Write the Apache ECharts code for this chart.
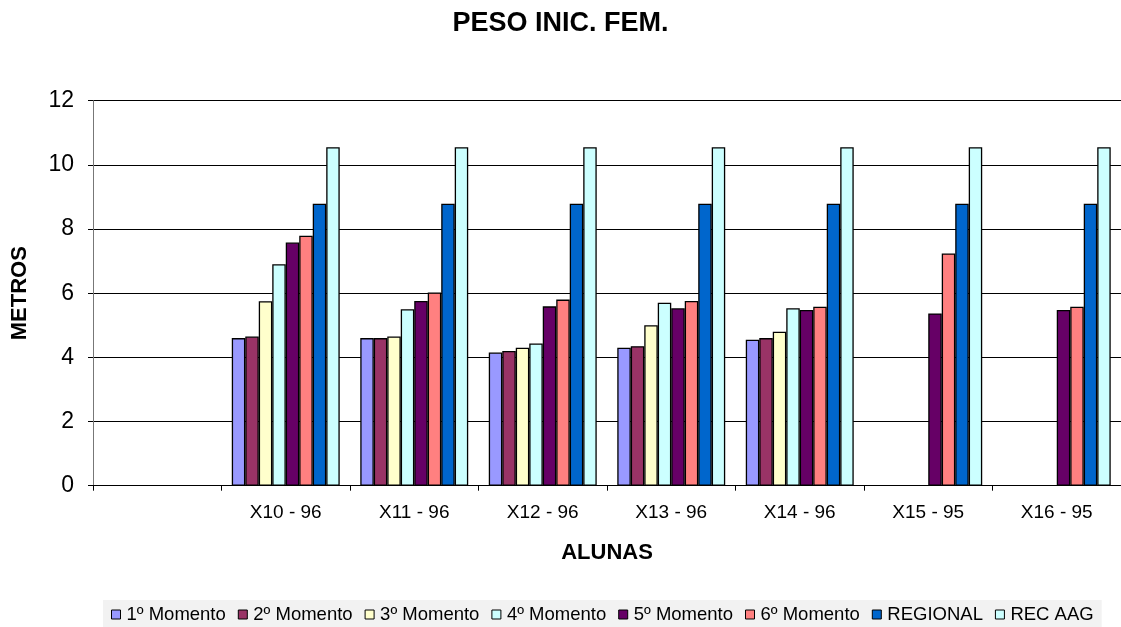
<!DOCTYPE html>
<html>
<head>
<meta charset="utf-8">
<script src="https://cdn.jsdelivr.net/npm/echarts@6/dist/echarts.min.js"></script>
<style>
  html, body { margin: 0; padding: 0; background: #fff; }
  #chart { width: 1121px; height: 627px; }
</style>
</head>
<body>
<div id="chart"></div>
<script>
const categories = ['', 'X10 - 96', 'X11 - 96', 'X12 - 96', 'X13 - 96', 'X14 - 96', 'X15 - 95', 'X16 - 95'];
const yTicks = [0, 2, 4, 6, 8, 10, 12];

const momento1 = [null, 4.6, 4.6, 4.15, 4.3, 4.55, null, null];
const momento2 = [null, 4.65, 4.6, 4.2, 4.35, 4.6, null, null];
const momento3 = [null, 5.75, 4.65, 4.3, 5.0, 4.8, null, null];
const momento4 = [null, 6.9, 5.5, 4.43, 5.7, 5.53, null, null];
const momento5 = [null, 7.58, 5.76, 5.59, 5.53, 5.48, 5.37, 5.48];
const momento6 = [null, 7.79, 6.02, 5.8, 5.76, 5.58, 7.24, 5.58];
const regional = [null, 8.79, 8.79, 8.79, 8.79, 8.79, 8.79, 8.79];
const recAag = [null, 10.55, 10.55, 10.55, 10.55, 10.55, 10.55, 10.55];

const seriesDefs = [
    { name: '1º Momento', data: momento1, color: '#9999FF' },
    { name: '2º Momento', data: momento2, color: '#993366' },
    { name: '3º Momento', data: momento3, color: '#FFFFCC' },
    { name: '4º Momento', data: momento4, color: '#CCFFFF' },
    { name: '5º Momento', data: momento5, color: '#660066' },
    { name: '6º Momento', data: momento6, color: '#FF8080' },
    { name: 'REGIONAL', data: regional, color: '#0066CC' },
    { name: 'REC AAG', data: recAag, color: '#CCFFFF' }
];

const font = 'Arial, "Liberation Sans", sans-serif';
const chart = echarts.init(document.getElementById('chart'));

chart.setOption({
    animation: false,
    backgroundColor: '#fff',
    title: {
        text: 'PESO INIC. FEM.',
        left: 'center',
        top: 5,
        textStyle: { fontFamily: font, fontSize: 27, fontWeight: 'bold', color: '#000' }
    },
    legend: {
        top: 600,
        left: 103,
        itemWidth: 9,
        itemHeight: 9,
        itemGap: 12,
        padding: [5, 8],
        backgroundColor: '#f2f2f2',
        icon: 'rect',
        textStyle: { fontFamily: font, fontSize: 18.5, color: '#000', padding: [0, 0, 0, 1] },
        itemStyle: { borderColor: '#000', borderWidth: 1 }
    },
    grid: { left: 93, top: 100.7, width: 1031, bottom: 141.3 },
    xAxis: {
        type: 'category',
        data: categories,
        name: 'ALUNAS',
        nameLocation: 'middle',
        nameGap: 56,
        nameTextStyle: { fontFamily: font, fontSize: 22, fontWeight: 'bold', color: '#000' },
        axisLine: { lineStyle: { color: '#000', width: 1 } },
        axisTick: { show: true, alignWithLabel: false, length: 5, lineStyle: { color: '#000' } },
        axisLabel: { fontFamily: font, fontSize: 19, color: '#000', margin: 18 },
        splitLine: { show: false }
    },
    yAxis: {
        type: 'value',
        min: 0,
        max: 12,
        interval: 2,
        name: 'METROS',
        nameLocation: 'middle',
        nameGap: 62,
        nameRotate: 90,
        nameTextStyle: { fontFamily: font, fontSize: 22, fontWeight: 'bold', color: '#000' },
        axisLine: { show: true, lineStyle: { color: '#777', width: 1 } },
        axisTick: { show: true, length: 5, lineStyle: { color: '#000' } },
        axisLabel: {
            fontFamily: font, fontSize: 23, color: '#000', margin: 19,
            formatter: v => yTicks.includes(v) ? String(v) : ''
        },
        splitLine: { show: true, lineStyle: { color: '#000', width: 1 } }
    },
    series: seriesDefs.map(s => ({
        name: s.name,
        type: 'bar',
        data: s.data,
        barGap: '0%',
        barCategoryGap: '16%',
        itemStyle: { color: s.color, borderColor: '#000', borderWidth: 1.3 }
    }))
});
</script>
</body>
</html>
